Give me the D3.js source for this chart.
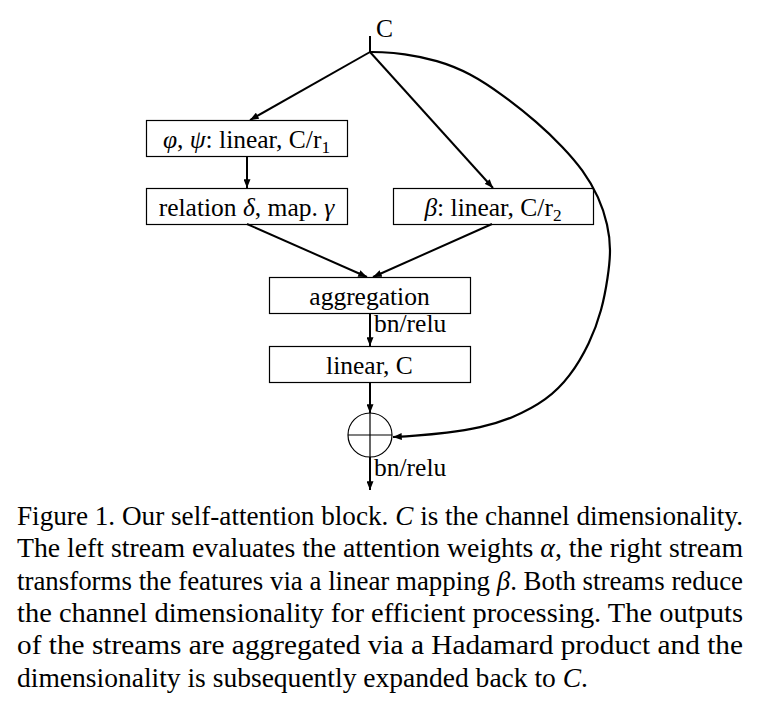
<!DOCTYPE html>
<html>
<head>
<meta charset="utf-8">
<script src="https://cdn.jsdelivr.net/npm/d3@7"></script>
<style>
  body { margin: 0; background: #fff; }
  svg text { font-family: "Liberation Serif", "DejaVu Serif", serif; fill: #000; }
</style>
</head>
<body>
<div id="figure"></div>
<script>
// blocks of the diagram, label pieces: [text, style] with style i = italic, s = subscript
const blockIds = ["proj", "relation", "beta", "aggregation", "linear"];
const blockLabels = [
  [["φ", "i"], [", "], ["ψ", "i"], [": linear, C/r"], ["1", "s"]],
  [["relation "], ["δ", "i"], [", map. "], ["γ", "i"]],
  [["β", "i"], [": linear, C/r"], ["2", "s"]],
  [["aggregation"]],
  [["linear, C"]]
];
// edges between blocks ("split" = branching point under the input C, "sum" = the ⊕ node)
const edgeFrom = ["split", "split", "proj", "relation", "beta", "aggregation", "linear", "sum"];
const edgeTo = ["proj", "beta", "relation", "aggregation", "aggregation", "linear", "sum", "out"];
const edgeLabels = ["", "", "", "", "", "bn/relu", "", "bn/relu"];
const inputLabel = "C";

const captionLines = [
  [["Figure 1. Our self-attention block. "], ["C", "i"], [" is the channel dimensionality."]],
  [["The left stream evaluates the attention weights "], ["α", "i"], [", the right stream"]],
  [["transforms the features via a linear mapping "], ["β", "i"], [". Both streams reduce"]],
  [["the channel dimensionality for efficient processing.  The outputs"]],
  [["of the streams are aggregated via a Hadamard product and the"]],
  [["dimensionality is subsequently expanded back to "], ["C", "i"], ["."]]
];

// ---- layout ----
const width = 760, height = 705;
const boxW = 201, boxH = 36;
const col = d3.scaleOrdinal().domain(["left", "mid", "right"]).range([146, 269, 393]);
const row = d3.scaleOrdinal().domain([0, 1, 2, 3]).range([120, 188, 277, 346]);
const blockPos = {
  proj: ["left", 0], relation: ["left", 1], beta: ["right", 1],
  aggregation: ["mid", 2], linear: ["mid", 3]
};
const spineX = 370;
const inputTop = 36, splitY = 52;
const sum = { x: spineX, y: 435, r: 22 };
const outY = 490;

const svg = d3.select("#figure").append("svg")
  .attr("width", width).attr("height", height);

svg.append("defs").append("marker")
  .attr("id", "arrow")
  .attr("viewBox", "0 0 10 8")
  .attr("refX", 10).attr("refY", 4)
  .attr("markerWidth", 9).attr("markerHeight", 7)
  .attr("markerUnits", "userSpaceOnUse")
  .attr("orient", "auto")
  .append("path").attr("d", "M0,0 L10,4 L0,8 Z").attr("fill", "#000");

function addRuns(text, runs, size) {
  runs.forEach(([t, s]) => {
    const ts = text.append("tspan").text(t);
    if (s === "i") ts.attr("font-style", "italic");
    if (s === "s") ts.attr("font-size", size * 0.68).attr("baseline-shift", "-28%");
  });
  return text;
}

const blocks = blockIds.map((id, i) => {
  const [c, r] = blockPos[id];
  const x = col(c), y = row(r);
  return { id, x, y, w: c === "right" ? 200 : boxW, h: boxH, label: blockLabels[i] };
});
const byId = Object.fromEntries(blocks.map(b => [b.id, b]));

// boxes
const g = svg.append("g");
g.selectAll("rect").data(blocks).join("rect")
  .attr("x", d => d.x + 0.5).attr("y", d => d.y + 0.5)
  .attr("width", d => d.w).attr("height", d => d.h)
  .attr("fill", "none").attr("stroke", "#000").attr("stroke-width", 1.2);

g.selectAll("text.block").data(blocks).join("text")
  .attr("class", "block")
  .attr("x", d => d.x + d.w / 2).attr("y", d => d.y + 28)
  .attr("text-anchor", "middle").attr("font-size", 25.5)
  .each(function (d) { addRuns(d3.select(this), d.label, 25.5); });

// input
svg.append("line")
  .attr("x1", spineX).attr("x2", spineX).attr("y1", inputTop).attr("y2", splitY)
  .attr("stroke", "#000").attr("stroke-width", 2);
svg.append("text").attr("x", spineX + 6).attr("y", 37).attr("font-size", 25.5).text(inputLabel);

// edge anchor points
function anchor(id, side, other) {
  if (id === "split") return [spineX, splitY];
  if (id === "out") return [spineX, outY];
  if (id === "sum") return side === "out" ? [sum.x, sum.y + sum.r] : [sum.x, sum.y - sum.r];
  const b = byId[id];
  if (side === "out") {
    const cx = b.id === "beta" ? 492 : (b.id === "relation" || b.id === "proj") ? 247 : spineX;
    return [cx, b.y + b.h];
  }
  let cx = spineX;
  if (b.id === "proj") cx = 250;
  if (b.id === "relation") cx = 247;
  if (b.id === "beta") cx = 493;
  if (b.id === "aggregation") cx = other === "beta" ? 373 : other === "relation" ? 367 : spineX;
  return [cx, b.y];
}

const edges = edgeFrom.map((f, i) => ({
  a: anchor(f, "out", edgeTo[i]),
  b: anchor(edgeTo[i], "in", f),
  label: edgeLabels[i]
}));

svg.append("g").selectAll("line").data(edges).join("line")
  .attr("x1", d => d.a[0]).attr("y1", d => d.a[1])
  .attr("x2", d => d.b[0]).attr("y2", d => d.b[1])
  .attr("stroke", "#000").attr("stroke-width", 2)
  .attr("marker-end", "url(#arrow)");

svg.append("g").selectAll("text").data(edges.filter(d => d.label)).join("text")
  .attr("x", spineX + 4).attr("y", d => d.a[1] + 19)
  .attr("font-size", 25.5).text(d => d.label);

// sum node
svg.append("circle").attr("cx", sum.x).attr("cy", sum.y).attr("r", sum.r)
  .attr("fill", "none").attr("stroke", "#000").attr("stroke-width", 1.2);
svg.append("path")
  .attr("d", `M${sum.x - sum.r},${sum.y}H${sum.x + sum.r}M${sum.x},${sum.y - sum.r}V${sum.y + sum.r}`)
  .attr("stroke", "#000").attr("stroke-width", 1.2);

// skip connection
const skipPath = [[370, 52], [380, 52], [403, 53.5], [437, 60], [470, 73], [503, 95], [537, 122],
  [563, 147], [583, 170], [599, 197], [608, 225], [611, 250], [608, 277], [602, 310],
  [590, 343], [570, 377], [547, 400], [513, 418], [480, 428], [447, 433], [413, 436],
  [sum.x + sum.r + 1, 437]];
svg.append("path")
  .attr("d", d3.line().curve(d3.curveBasis)(skipPath))
  .attr("fill", "none").attr("stroke", "#000").attr("stroke-width", 2.2)
  .attr("marker-end", "url(#arrow)");

// caption, justified
const capX = 17, capRight = 743, capTop = 525, capStep = 32.3, capSize = 26.3;
svg.append("g").selectAll("text").data(captionLines).join("text")
  .attr("x", capX).attr("y", (d, i) => capTop + i * capStep)
  .attr("font-size", capSize)
  .each(function (d, i) {
    const t = d3.select(this);
    addRuns(t, d, capSize);
    const target = i === captionLines.length - 1 ? 571 : capRight - capX;
    t.attr("textLength", target).attr("lengthAdjust", "spacingAndGlyphs");
  });
</script>
</body>
</html>
